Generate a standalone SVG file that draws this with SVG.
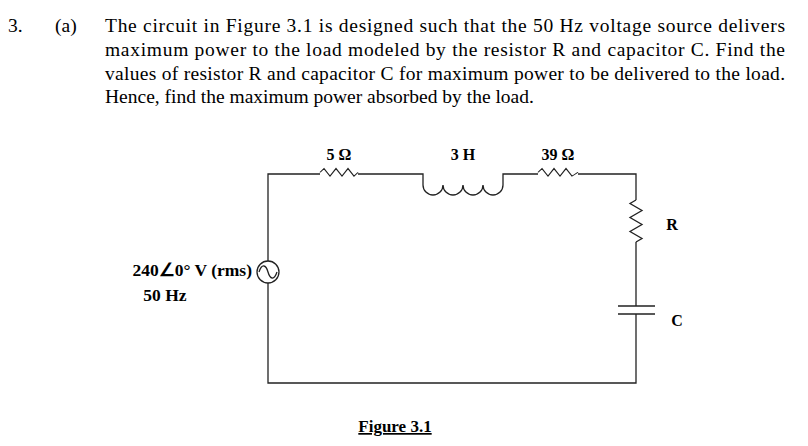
<svg xmlns="http://www.w3.org/2000/svg" width="808" height="446" viewBox="0 0 808 446">
<style>
text{font-family:"Liberation Serif","Times New Roman",serif;fill:#000}
.q{font-size:19.5px}
.l{font-size:16px;font-weight:bold}
.s{font-size:17.5px;font-weight:bold}
.w{fill:none;stroke:#222;stroke-width:1.3}
</style>
<rect width="808" height="446" fill="#fff"/>
<g id="question">
<text class="q" x="8" y="32">3.</text>
<text class="q" x="55" y="32">(a)</text>
<text class="q" x="105" y="32" textLength="680" lengthAdjust="spacing">The circuit in Figure 3.1 is designed such that the 50 Hz voltage source delivers</text>
<text class="q" x="105" y="56" textLength="680" lengthAdjust="spacing">maximum power to the load modeled by the resistor R and capacitor C. Find the</text>
<text class="q" x="105" y="80" textLength="680" lengthAdjust="spacing">values of resistor R and capacitor C for maximum power to be delivered to the load.</text>
<text class="q" x="105" y="103">Hence, find the maximum power absorbed by the load.</text>
</g>
<g id="connectors">
<path class="w" d="M268,261 V174 H320 M358,174 H423 V185 M503,185 V174 H538 M578,174 H636 V200 M636,242 V306 M636,314 V383 H268 V283"/>
</g>
<g id="R5">
<path class="w" d="M320,174 L324,167 L330,181 L336,167 L342,181 L348,167 L354,181 L358,174" transform="translate(0,174) scale(1,0.55) translate(0,-174) translate(0,-3)"/>
<text class="l" x="339" y="160" text-anchor="middle">5 Ω</text>
</g>
<g id="L3">
<path class="w" d="M423,185 A10,10 0 0 0 443,185 A10,10 0 0 0 463,185 A10,10 0 0 0 483,185 A10,10 0 0 0 503,185"/>
<text class="l" x="463" y="160" text-anchor="middle">3 H</text>
</g>
<g id="R39">
<path class="w" d="M538,174 L542,167 L548,181 L554,167 L560,181 L566,167 L572,181 L578,174" transform="translate(0,174) scale(1,0.55) translate(0,-174) translate(0,-3)"/>
<text class="l" x="558" y="160" text-anchor="middle">39 Ω</text>
</g>
<g id="R">
<path class="w" d="M636,200 L630,203.5 L642,210.5 L630,217.5 L642,224.5 L630,231.5 L642,238.5 L636,242"/>
<text class="l" x="672" y="230" text-anchor="middle">R</text>
</g>
<g id="C">
<path class="w" d="M618,306 H655 M618,314 H655"/>
<text class="l" x="677" y="326" text-anchor="middle">C</text>
</g>
<g id="source">
<circle class="w" cx="268" cy="272" r="11"/>
<path class="w" d="M259,272 C262,263 266,265 268,272 C270,279 274,281 277,272"/>
<text class="s" x="252" y="276" text-anchor="end">240∠0° V (rms)</text>
<text class="s" x="165" y="301" text-anchor="middle">50 Hz</text>
</g>
<g id="caption">
<text x="395" y="432" text-anchor="middle" font-size="17" font-weight="bold" text-decoration="underline">Figure 3.1</text>
</g>
</svg>
